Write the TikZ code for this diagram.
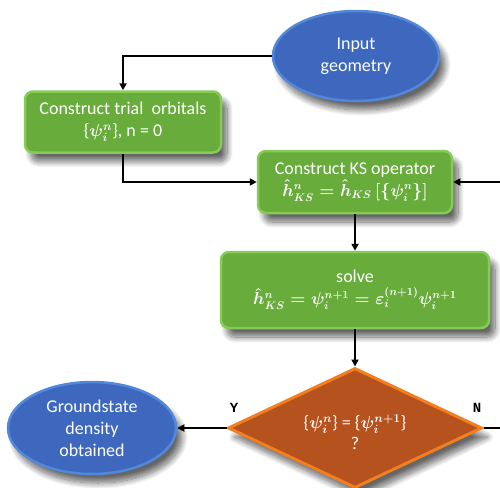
\documentclass[tikz,border=0pt]{standalone}
\usepackage{fontspec}
\setmainfont{Carlito}
\newfontfamily\labelfont{Liberation Mono}
\usetikzlibrary{shapes.geometric,arrows.meta,shadows.blur}

\definecolor{ellblue}{HTML}{3E68BE}
\definecolor{ellrim}{HTML}{5288DA}
\definecolor{boxgreen}{HTML}{68AC3C}
\definecolor{boxrim}{HTML}{86CB56}
\definecolor{decfill}{HTML}{B5521E}
\definecolor{decrim}{HTML}{F27E1F}

% math set a little heavier so it reads like the label text
\newcommand\formula[1]{{\fontsize{16}{22}\selectfont\boldmath$#1$}}
\newcommand\mset[1]{{\boldmath\{$#1$\}}}

\tikzset{
  softshadow/.style={blur shadow={shadow xshift=6pt, shadow yshift=-9pt,
      shadow blur radius=6pt, shadow blur steps=12, shadow opacity=60}},
  terminal/.style={ellipse, fill=ellblue, draw=ellrim, line width=2.5,
      softshadow, text=white, align=center, inner sep=0pt,
      font=\fontsize{18}{22}\selectfont},
  process/.style={rectangle, rounded corners=8, fill=boxgreen, draw=boxrim,
      line width=2.5, softshadow, text=white, align=center, inner sep=0pt,
      font=\fontsize{18}{22}\selectfont},
  decision/.style={diamond, fill=decfill, draw=decrim, line width=3,
      softshadow, text=white, align=center, inner sep=0pt,
      font=\fontsize{18}{21}\selectfont},
  branch/.style={font=\labelfont\bfseries\fontsize{14}{14}\selectfont},
  flow/.style={line width=1.8, -{Triangle[length=7pt,width=7pt]}},
  plain/.style={line width=1.8}
}

\begin{document}
\begin{tikzpicture}[x=1pt,y=-1pt]
  \useasboundingbox (0,0) rectangle (500,487);

  % start / end terminals
  \node[terminal, minimum width=166, minimum height=90] (input) at (356,56)
      {Input\\geometry};
  \node[terminal, minimum width=168, minimum height=92] (ground) at (92,428)
      {Groundstate\\density\\obtained};

  % process steps
  \node[process, minimum width=196, minimum height=61] (trial) at (123,122)
      {Construct trial\ \ orbitals\\\mset{\psi_i^n}, n = 0};
  \node[process, minimum width=194, minimum height=62] (ks) at (355,182)
      {Construct KS operator\\\formula{\hat{h}^n_{KS} = \hat{h}_{KS}\,[\{\psi_i^n\}]}};
  \node[process, minimum width=268, minimum height=76] (solve) at (355,290)
      {solve\\\formula{\hat{h}^n_{KS} = \psi_i^{n+1} = \varepsilon_i^{(n+1)}\psi_i^{n+1}}};

  % convergence test
  \node[decision, minimum width=254, minimum height=120, aspect=2.1] (test)
      at (355,428) {\rule{0pt}{22pt}\mset{\psi_i^n} = \mset{\psi_i^{n+1}}\\?};

  \node[branch] (ylab) at (234,408) {Y};
  \node[branch] (nlab) at (477,408) {N};

  % loop-back ends at the right border
  \coordinate (loopout) at (500,428);
  \coordinate (loopin) at (500,182);

  % connectors
  \draw[flow] (input.west) -| (trial.north);
  \draw[flow] (trial.south) |- (ks.west);
  \draw[flow] (loopin) -- (ks.east);
  \draw[flow] (ks.south) -- (solve.north);
  \draw[flow] (solve.south) -- (test.north);
  \draw[flow] (test.west) -- (ground.east);
  \draw[plain] (test.east) -- (loopout);
\end{tikzpicture}
\end{document}
